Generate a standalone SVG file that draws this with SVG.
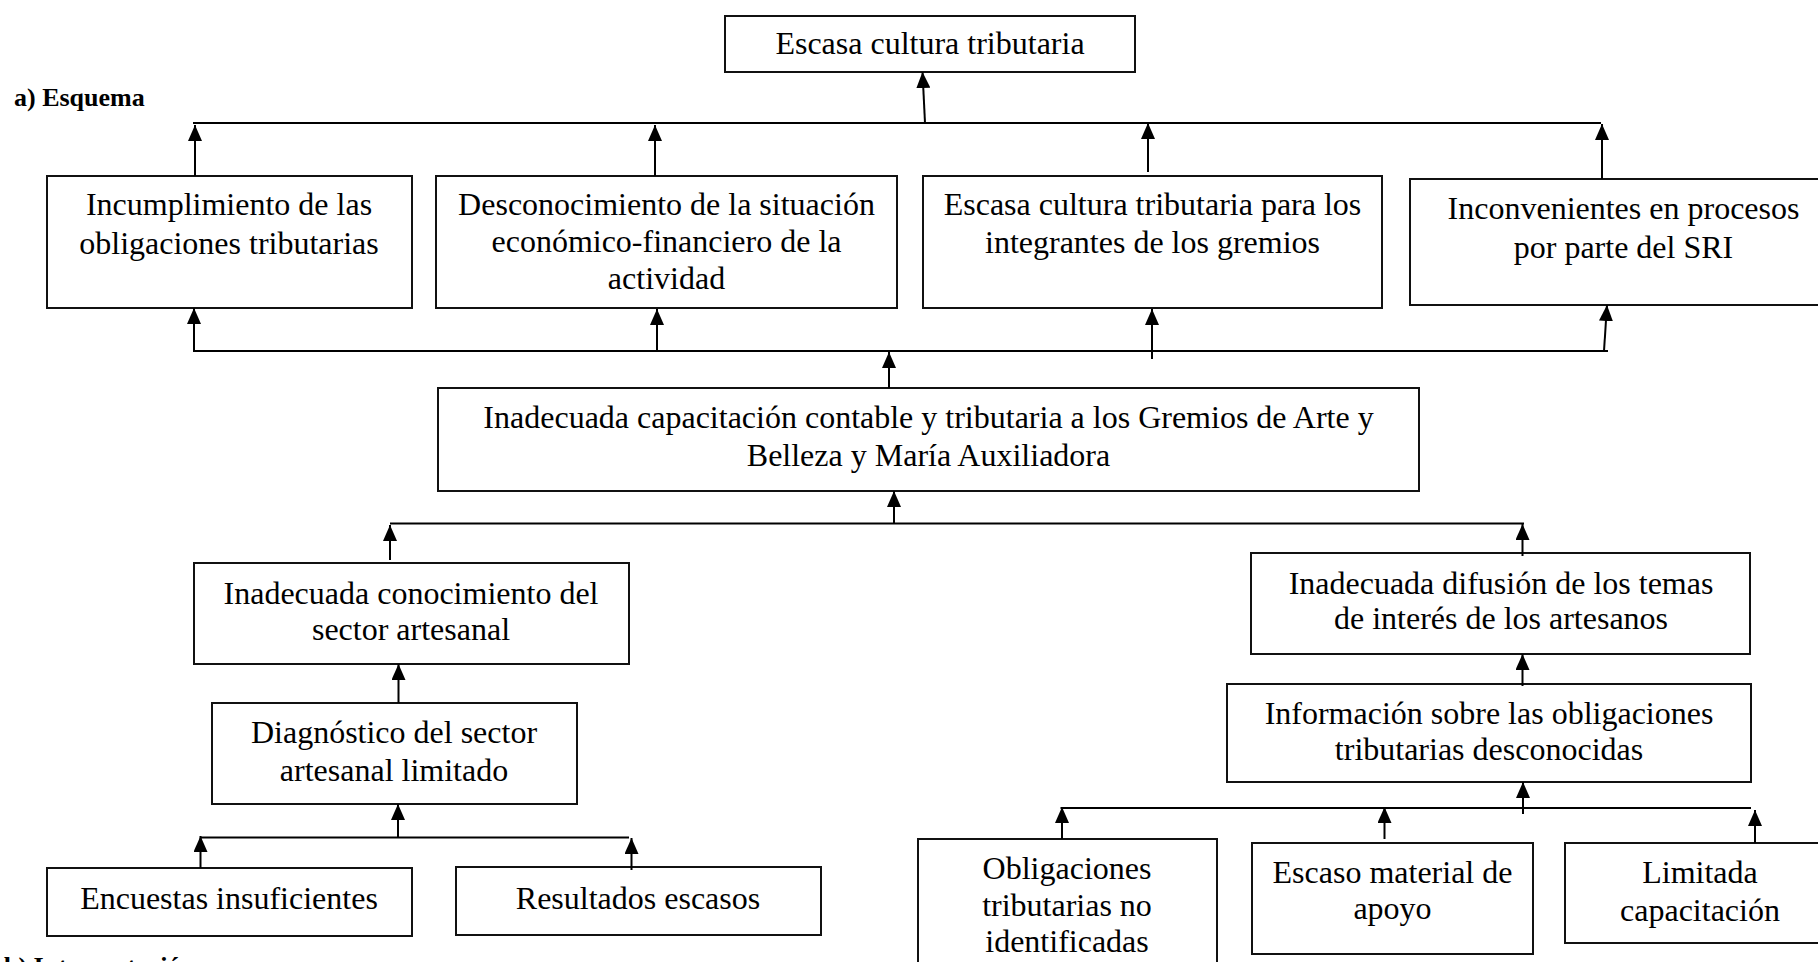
<svg xmlns="http://www.w3.org/2000/svg" width="1818" height="962" viewBox="0 0 1818 962">
<style>
.box{fill:#fff;stroke:#111;stroke-width:2}
.t{font-family:"Liberation Serif","Times New Roman",serif;font-size:32px;fill:#000;text-anchor:middle}
.lbl{font-family:"Liberation Serif","Times New Roman",serif;font-size:26px;font-weight:bold;fill:#000}
.ln{stroke:#000;stroke-width:2;fill:none}
.ar{stroke:#000;stroke-width:2;fill:none;marker-end:url(#ah)}
</style>
<defs>
<marker id="ah" viewBox="0 0 16 14" markerWidth="16" markerHeight="14" refX="16" refY="7" orient="auto" markerUnits="userSpaceOnUse"><path d="M0,0 L16,7 L0,14 z" fill="#000"/></marker>
</defs>
<rect width="1818" height="962" fill="#fff"/>
<text class="lbl" x="14" y="106">a) Esquema</text>
<text class="lbl" x="4" y="975">b) Interpretación</text>

<g id="n-top"><rect class="box" x="725" y="16" width="410" height="56"/><text class="t" x="930" y="54">Escasa cultura tributaria</text></g>

<g id="n-e1"><rect class="box" x="47" y="176" width="365" height="132"/><text class="t" x="229" y="215">Incumplimiento de las</text><text class="t" x="229" y="254">obligaciones tributarias</text></g>
<g id="n-e2"><rect class="box" x="436" y="176" width="461" height="132"/><text class="t" x="666.5" y="215">Desconocimiento de la situación</text><text class="t" x="666.5" y="252">económico-financiero de la</text><text class="t" x="666.5" y="289">actividad</text></g>
<g id="n-e3"><rect class="box" x="923" y="176" width="459" height="132"/><text class="t" x="1152.5" y="215">Escasa cultura tributaria para los</text><text class="t" x="1152.5" y="253">integrantes de los gremios</text></g>
<g id="n-e4"><rect class="box" x="1410" y="179" width="427" height="126"/><text class="t" x="1623.5" y="219">Inconvenientes en procesos</text><text class="t" x="1623.5" y="258">por parte del SRI</text></g>

<g id="n-center"><rect class="box" x="438" y="388" width="981" height="103"/><text class="t" x="928.5" y="428">Inadecuada capacitación contable y tributaria a los Gremios de Arte y</text><text class="t" x="928.5" y="466">Belleza y María Auxiliadora</text></g>

<g id="n-c1"><rect class="box" x="194" y="563" width="435" height="101"/><text class="t" x="411" y="604">Inadecuada conocimiento del</text><text class="t" x="411" y="640">sector artesanal</text></g>
<g id="n-c11"><rect class="box" x="212" y="703" width="365" height="101"/><text class="t" x="394" y="743">Diagnóstico del sector</text><text class="t" x="394" y="781">artesanal limitado</text></g>
<g id="n-c111"><rect class="box" x="47" y="868" width="365" height="68"/><text class="t" x="229" y="909">Encuestas insuficientes</text></g>
<g id="n-c112"><rect class="box" x="456" y="867" width="365" height="68"/><text class="t" x="638" y="909">Resultados escasos</text></g>

<g id="n-c2"><rect class="box" x="1251" y="553" width="499" height="101"/><text class="t" x="1501" y="594">Inadecuada difusión de los temas</text><text class="t" x="1501" y="629">de interés de los artesanos</text></g>
<g id="n-c21"><rect class="box" x="1227" y="684" width="524" height="98"/><text class="t" x="1489" y="724">Información sobre las obligaciones</text><text class="t" x="1489" y="760">tributarias desconocidas</text></g>
<g id="n-c211"><rect class="box" x="918" y="839" width="299" height="140"/><text class="t" x="1067" y="879">Obligaciones</text><text class="t" x="1067" y="916">tributarias no</text><text class="t" x="1067" y="952">identificadas</text></g>
<g id="n-c212"><rect class="box" x="1252" y="843" width="281" height="111"/><text class="t" x="1392.5" y="883">Escaso material de</text><text class="t" x="1392.5" y="919">apoyo</text></g>
<g id="n-c213"><rect class="box" x="1565" y="843" width="270" height="100"/><text class="t" x="1700" y="883">Limitada</text><text class="t" x="1700" y="921">capacitación</text></g>

<g id="connectors">
<line class="ln" x1="193" y1="123" x2="1601" y2="123"/>
<line class="ar" x1="925" y1="123" x2="922.5" y2="72"/>
<line class="ar" x1="195" y1="176" x2="195" y2="125"/>
<line class="ar" x1="655" y1="176" x2="655" y2="125"/>
<line class="ar" x1="1148" y1="172" x2="1148" y2="123"/>
<line class="ar" x1="1602" y1="179" x2="1602" y2="124"/>

<line class="ln" x1="193" y1="351" x2="1608" y2="351"/>
<line class="ar" x1="194" y1="351" x2="194" y2="308"/>
<line class="ar" x1="657" y1="351" x2="657" y2="309"/>
<line class="ar" x1="1152" y1="359" x2="1152" y2="309"/>
<line class="ar" x1="1604" y1="351" x2="1607" y2="305"/>
<line class="ar" x1="889" y1="388" x2="889" y2="352"/>

<line class="ln" x1="390" y1="523.5" x2="1524" y2="523.5"/>
<line class="ar" x1="894" y1="523.5" x2="894" y2="491"/>
<line class="ar" x1="390" y1="560" x2="390" y2="525"/>
<line class="ar" x1="1522.5" y1="556" x2="1522.5" y2="524"/>

<line class="ar" x1="398.5" y1="703" x2="398.5" y2="664"/>
<line class="ln" x1="200" y1="837.5" x2="629" y2="837.5"/>
<line class="ar" x1="398" y1="837.5" x2="398" y2="804"/>
<line class="ar" x1="200.5" y1="868" x2="200.5" y2="836"/>
<line class="ar" x1="631.5" y1="870" x2="631.5" y2="838"/>

<line class="ar" x1="1522.5" y1="686" x2="1522.5" y2="654"/>
<line class="ln" x1="1060.5" y1="808" x2="1751" y2="808"/>
<line class="ar" x1="1523" y1="814" x2="1523" y2="782"/>
<line class="ar" x1="1062" y1="839" x2="1062" y2="807"/>
<line class="ar" x1="1384.5" y1="839" x2="1384.5" y2="807"/>
<line class="ar" x1="1755" y1="843" x2="1755" y2="810"/>
</g>
</svg>
